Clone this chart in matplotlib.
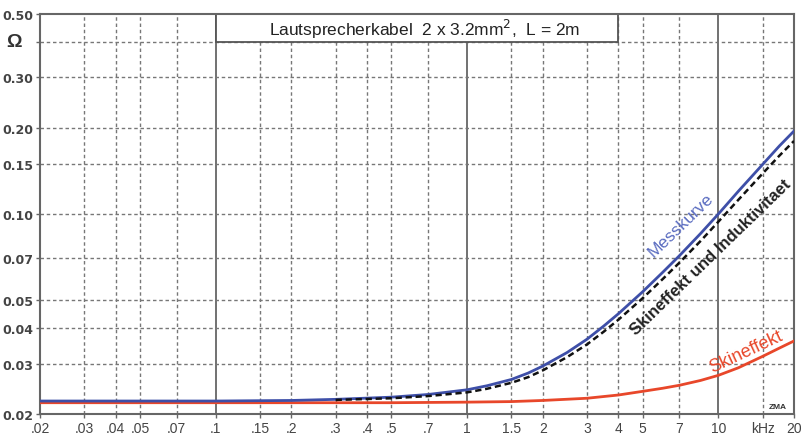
import matplotlib.pyplot as plt
from matplotlib.patches import Rectangle

# frequency in kHz, impedance in Ohm
f_mess = [0.02, 0.1, 0.2, 0.3, 0.5, 0.7, 1, 1.2, 1.5, 1.75, 2, 2.5, 3, 3.5, 4, 5, 6, 7,
          8.5, 10, 12, 15, 17.5, 20]
z_mess = [0.0222, 0.0222, 0.0223, 0.0225, 0.0229, 0.0234, 0.0243, 0.0251, 0.0264,
          0.0278, 0.0294, 0.0328, 0.0365, 0.0406, 0.0448, 0.0535, 0.0625, 0.0715,
          0.0855, 0.1000, 0.1200, 0.1490, 0.1730, 0.1950]

f_calc = [0.3, 0.5, 0.7, 1, 1.2, 1.5, 1.75, 2, 2.5, 3, 3.5, 4, 5, 6, 7, 8.5, 10, 12,
          15, 17.5, 20]
z_calc = [0.0224, 0.0227, 0.0231, 0.0238, 0.0245, 0.0257, 0.0269, 0.0284, 0.0316,
          0.0350, 0.0388, 0.0427, 0.0508, 0.0592, 0.0676, 0.0805, 0.0940, 0.1120,
          0.1385, 0.1600, 0.1800]

f_skin = [0.02, 0.1, 0.5, 1, 1.5, 2, 3, 4, 5, 6, 7, 8.5, 10, 12, 15, 17.5, 20]
z_skin = [0.0219, 0.0219, 0.0219, 0.0220, 0.0221, 0.0223, 0.0227, 0.0233, 0.0240,
          0.0246, 0.0252, 0.0262, 0.0273, 0.0290, 0.0318, 0.0340, 0.0360]

xticks = [0.02, 0.03, 0.04, 0.05, 0.07, 0.1, 0.15, 0.2, 0.3, 0.4, 0.5, 0.7,
          1, 1.5, 2, 3, 4, 5, 7, 10, 15, 20]
xlabels = ['.02', '.03', '.04', '.05', '.07', '.1', '.15', '.2', '.3', '.4', '.5', '.7',
           '1', '1.5', '2', '3', '4', '5', '7', '10', 'kHz', '20']
yticks = [0.02, 0.03, 0.04, 0.05, 0.07, 0.10, 0.15, 0.20, 0.30, 0.40, 0.50]
ylabels = ['0.02', '0.03', '0.04', '0.05', '0.07', '0.10', '0.15', '0.20', '0.30', '', '0.50']

plt.rcParams['font.family'] = ['Liberation Sans', 'DejaVu Sans']

fig = plt.figure(figsize=(8.01, 4.35), dpi=100)
ax = fig.add_axes([0.05, 0.046, 0.9413, 0.9195])
ax.set_xscale('log')
ax.set_yscale('log')
ax.set_xlim(0.02, 20)
ax.set_ylim(0.02, 0.5)

ax.set_xticks(xticks)
ax.set_xticklabels(xlabels, fontsize=10, color='#444')
ax.set_yticks(yticks)
ax.set_yticklabels(ylabels, fontsize=9, fontweight='bold', color='#444',
                   family='DejaVu Sans')
ax.minorticks_off()
ax.tick_params(direction='out', length=3, width=1, color='#666', pad=2)

# grid: dashed, decades solid
for x in xticks[1:-1]:
    if x in (0.1, 1, 10):
        ax.axvline(x, color='#666', lw=1.3, zorder=1)
    else:
        ax.axvline(x, color='#777', lw=1, ls=(0, (2.5, 2)), zorder=1)
for y in yticks[1:-1]:
    ax.axhline(y, color='#777', lw=1, ls=(0, (2.5, 2)), zorder=1)

for s in ax.spines.values():
    s.set_color('#666')
    s.set_linewidth(1.5)

# title box
ax.add_patch(Rectangle((0.1, 0.4), 4 - 0.1, 0.5 - 0.4, facecolor='white',
                       edgecolor='#555', lw=1.3, zorder=2))
ax.text(0.68, 0.445, 'Lautsprecherkabel  2 x 3.2mm$^2$,  L = 2m', ha='center',
        va='center', fontsize=12.5, color='#222', zorder=3)
ax.text(-0.034, 0.4, 'Ω', transform=ax.get_yaxis_transform(), ha='center',
        va='center', fontsize=14, fontweight='bold', color='#333')

ax.plot(f_skin, z_skin, color='#e8472a', lw=2, zorder=4)
ax.plot(f_mess, z_mess, color='#3e4fa8', lw=2, zorder=5)
ax.plot(f_calc, z_calc, color='#111', lw=1.8, ls=(0, (2.5, 1.5)), zorder=6)

ax.text(7.1, 0.0915, 'Messkurve', rotation=44, ha='center', va='center',
        fontsize=12.5, color='#5a6cc0', zorder=7)
ax.text(9.3, 0.071, 'Skineffekt und Induktivitaet', rotation=44, ha='center',
        va='center', fontsize=12, fontweight='bold', color='#222', zorder=7)
ax.text(12.9, 0.0332, 'Skineffekt', rotation=25, ha='center', va='center',
        fontsize=13, color='#e8472a', zorder=7)
ax.text(17.3, 0.0212, 'ZMA', ha='center', va='center', fontsize=6,
        fontweight='bold', color='#333', zorder=7)

fig.savefig('out.png', dpi=100)
